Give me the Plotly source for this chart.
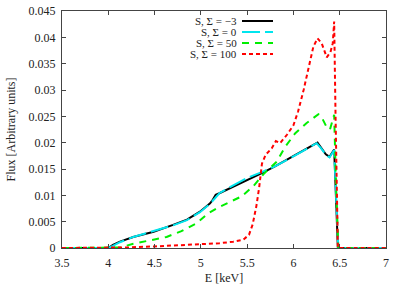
import plotly.graph_objects as go

# ---- data ----
E_m3 = [3.5, 4.0, 4.05, 4.126, 4.27, 4.49, 4.70, 4.85, 4.99, 5.10, 5.13, 5.16, 5.2, 5.35, 5.5, 5.67,
        5.8, 6.0, 6.1, 6.26, 6.3, 6.35, 6.39, 6.42, 6.44, 6.46, 6.48, 6.5, 7.0]
F_m3 = [0, 0, 0.0006, 0.0012, 0.0021, 0.0031, 0.0044, 0.0054, 0.0069, 0.0085, 0.0092, 0.0101, 0.0104,
        0.0116, 0.0129, 0.0143, 0.0155, 0.0174, 0.0184, 0.0200, 0.0190, 0.0178, 0.0173, 0.0181, 0.0187,
        0.0095, 0, 0, 0]

E_0 = [3.5, 4.0, 4.05, 4.126, 4.27, 4.49, 4.70, 4.85, 4.99, 5.10, 5.14, 5.17, 5.2, 5.35, 5.5, 5.67,
       5.8, 6.0, 6.1, 6.25, 6.3, 6.35, 6.39, 6.42, 6.44, 6.46, 6.485, 6.5, 7.0]
F_0 = [0, 0, 0.0004, 0.0011, 0.0021, 0.0032, 0.0043, 0.0053, 0.0068, 0.0084, 0.0092, 0.0099, 0.0104,
       0.0119, 0.0133, 0.0145, 0.0155, 0.0174, 0.0184, 0.0199, 0.0189, 0.0177, 0.0172, 0.0180, 0.0186,
       0.0100, 0, 0, 0]

E_50 = [3.5, 4.05, 4.13, 4.27, 4.45, 4.63, 4.79, 4.955, 5.08, 5.2, 5.44, 5.57, 5.675, 5.82, 5.91,
        6.02, 6.14, 6.27, 6.3, 6.36, 6.395, 6.43, 6.44, 6.46, 6.485, 6.5, 7.0]
F_50 = [0, 0, 0.0001, 0.0008, 0.0014, 0.0021, 0.0032, 0.0047, 0.0066, 0.0078, 0.0098, 0.0118, 0.0140,
        0.0164, 0.0192, 0.0218, 0.0237, 0.0254, 0.0250, 0.0229, 0.0225, 0.0251, 0.0253, 0.0120, 0, 0, 0]

E_100 = [3.5, 4.0, 4.2, 4.5, 4.8, 5.0, 5.2, 5.35, 5.46, 5.52, 5.56, 5.6, 5.63, 5.66, 5.7, 5.765,
         5.81, 5.855, 5.93, 6.0, 6.05, 6.11, 6.16, 6.215, 6.26, 6.305, 6.36, 6.40, 6.425, 6.44, 6.455,
         6.48, 6.5, 7.0]
F_100 = [0, 0, 0.0001, 0.0003, 0.0005, 0.0007, 0.0009, 0.0012, 0.0016, 0.0025, 0.0045, 0.0080, 0.0115,
         0.0160, 0.0177, 0.0189, 0.0203, 0.0199, 0.0215, 0.0233, 0.0259, 0.0300, 0.0338, 0.0382, 0.0398,
         0.0389, 0.0362, 0.0372, 0.0389, 0.0430, 0.0250, 0, 0, 0]

labels = ["S, \u03a3 = \u22123", "S, \u03a3 = 0", "S, \u03a3 = 50", "S, \u03a3 = 100"]
colors = ["#000000", "#00e5ee", "#00ee00", "#ff0000"]
dashes = ["solid", "18px,5px", "7px,6px", "4px,3px"]

x_ticks = [3.5, 4, 4.5, 5, 5.5, 6, 6.5, 7]
x_ticktext = ["3.5", "4", "4.5", "5", "5.5", "6", "6.5", "7"]
y_ticks = [0, 0.005, 0.01, 0.015, 0.02, 0.025, 0.03, 0.035, 0.04, 0.045]
y_ticktext = ["0", "0.005", "0.01", "0.015", "0.02", "0.025", "0.03", "0.035", "0.04", "0.045"]

FONT = "Liberation Serif"
FS = 12
TXT = "#222"

fig = go.Figure()
series = [(E_m3, F_m3), (E_0, F_0), (E_50, F_50), (E_100, F_100)]
for (xs, ys), lab, c, d in zip(series, labels, colors, dashes):
    fig.add_trace(go.Scatter(x=xs, y=ys, mode="lines", name=lab,
                             line=dict(color=c, width=2, dash=d), showlegend=False))

# manual gnuplot-style legend (text right-aligned, sample to the right)
W, H = 407, 285
ml, mr, mt, mb = 62, 21, 11, 37
pw, ph = W - ml - mr, H - mt - mb
def px(x):
    return (x - ml) / pw
def py(y):
    return (H - mb - y) / ph
rows = [21, 32, 43, 54]
for lab, c, d, yr in zip(labels, colors, dashes, rows):
    fig.add_annotation(x=px(238), y=py(yr), xref="paper", yref="paper", text=lab,
                       showarrow=False, xanchor="right", yanchor="middle", borderpad=0,
                       font=dict(family=FONT, size=11, color=TXT))
    fig.add_shape(type="line", xref="paper", yref="paper", x0=px(242), x1=px(273),
                  y0=py(yr), y1=py(yr), line=dict(color=c, width=2, dash=d))

axis_common = dict(showgrid=False, zeroline=False, showline=True, linecolor="#444",
                   linewidth=1, mirror="ticks", ticks="inside", ticklen=4, tickcolor="#444",
                   automargin=False, tickfont=dict(family=FONT, size=FS, color=TXT))
fig.update_xaxes(range=[3.5, 7], tickvals=x_ticks, ticktext=x_ticktext, ticklabelstandoff=4,
                 title=dict(text="E [keV]", font=dict(family=FONT, size=FS, color=TXT), standoff=7),
                 **axis_common)
fig.update_yaxes(range=[0, 0.045], tickvals=y_ticks, ticktext=y_ticktext, ticklabelstandoff=3,
                 title=dict(text="Flux [Arbitrary units]", font=dict(family=FONT, size=FS, color=TXT),
                            standoff=10),
                 **axis_common)
fig.update_layout(width=W, height=H, margin=dict(l=ml, r=mr, t=mt, b=mb),
                  plot_bgcolor="white", paper_bgcolor="white", showlegend=False)
fig.write_html("out.html", config={"displayModeBar": False},
               post_script="document.body.style.margin='0';")
